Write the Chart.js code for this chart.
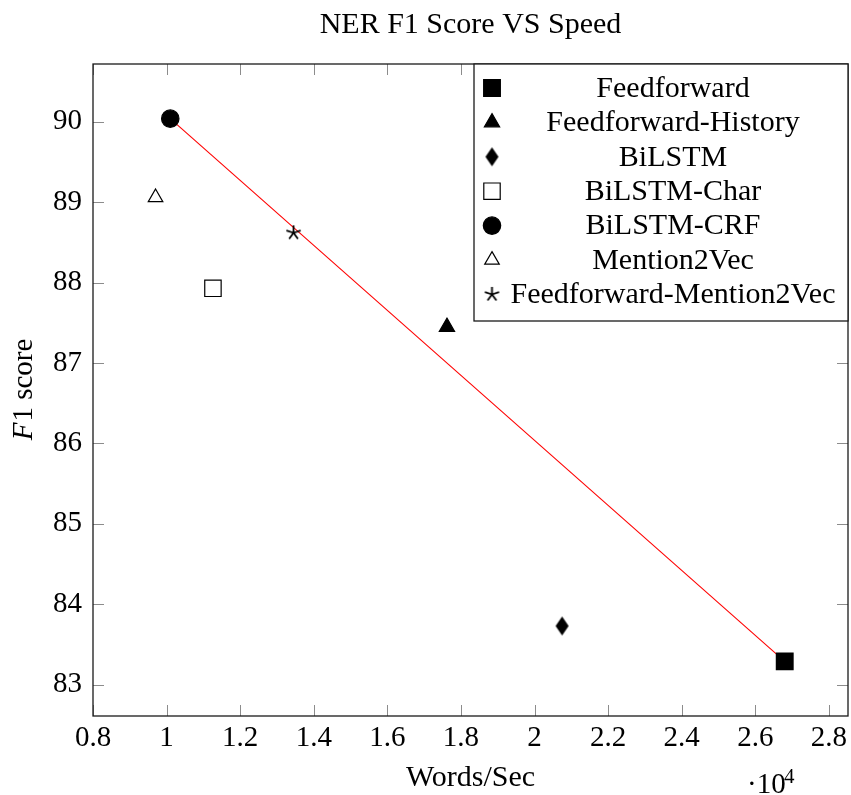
<!DOCTYPE html>
<html>
<head>
<meta charset="utf-8">
<title>NER F1 Score VS Speed</title>
<script src="https://cdn.jsdelivr.net/npm/chart.js@4.4.0/dist/chart.umd.min.js"></script>
<style>
  html, body { margin: 0; padding: 0; background: #fff; overflow: hidden; }
  #wrap { position: relative; width: 851px; height: 795px; }
</style>
</head>
<body>
<div id="wrap"><canvas id="speedChart"></canvas></div>
<script>
// speeds are in units of 10^4 words/sec
const models = ['Feedforward', 'Feedforward-History', 'BiLSTM', 'BiLSTM-Char', 'BiLSTM-CRF', 'Mention2Vec', 'Feedforward-Mention2Vec'];
const wordsPerSec = [2.68, 1.762, 2.075, 1.126, 1.01, 0.97, 1.345];
const f1Scores = [83.29, 87.45, 83.73, 87.93, 90.04, 89.06, 88.62];
// the red line joins these two models
const lineModels = ['BiLSTM-CRF', 'Feedforward'];
const xTicks = [0.8, 1, 1.2, 1.4, 1.6, 1.8, 2, 2.2, 2.4, 2.6, 2.8];
const yTicks = [83, 84, 85, 86, 87, 88, 89, 90];

const FONT = "'Liberation Serif', 'Times New Roman', serif";

function diamondMarker(w, h) {
    const c = document.createElement('canvas');
    c.width = w + 2;
    c.height = h + 2;
    const g = c.getContext('2d');
    g.fillStyle = '#000';
    g.beginPath();
    g.moveTo(c.width / 2, 1);
    g.lineTo(c.width - 1, c.height / 2);
    g.lineTo(c.width / 2, c.height - 1);
    g.lineTo(1, c.height / 2);
    g.closePath();
    g.fill();
    return c;
}

function starMarker(r) {
    const size = Math.ceil(r * 2 + 4);
    const c = document.createElement('canvas');
    c.width = size;
    c.height = size;
    const g = c.getContext('2d');
    g.strokeStyle = '#000';
    g.lineWidth = 1.8;
    g.beginPath();
    for (let i = 0; i < 5; i++) {
        const a = -Math.PI / 2 + i * 2 * Math.PI / 5;
        g.moveTo(size / 2, size / 2);
        g.lineTo(size / 2 + r * Math.cos(a), size / 2 + r * Math.sin(a));
    }
    g.stroke();
    return c;
}

// marker look per model, same order as models
const markers = [
    { pointStyle: 'rect', radius: 11.8, fill: '#000' },
    { pointStyle: 'triangle', radius: 8.8, fill: '#000' },
    { pointStyle: diamondMarker(13, 19), radius: 9, fill: '#000' },
    { pointStyle: 'rect', radius: 11.6, fill: '#fff' },
    { pointStyle: 'circle', radius: 8.7, fill: '#000' },
    { pointStyle: 'triangle', radius: 8.4, fill: '#fff' },
    { pointStyle: starMarker(7.5), radius: 8, fill: '#000' },
];

const fmtTick = (v) => String(Number(Number(v).toFixed(1)));

const datasets = models.map((name, i) => ({
    type: 'scatter',
    label: name,
    data: [{ x: wordsPerSec[i], y: f1Scores[i] }],
    pointStyle: markers[i].pointStyle,
    pointRadius: markers[i].radius,
    pointHoverRadius: markers[i].radius,
    backgroundColor: markers[i].fill,
    borderColor: '#000',
    borderWidth: 1.2,
    order: 0,
}));

datasets.push({
    type: 'line',
    label: 'frontier',
    data: lineModels.map((m) => {
        const i = models.indexOf(m);
        return { x: wordsPerSec[i], y: f1Scores[i] };
    }),
    borderColor: '#ff0000',
    borderWidth: 1.1,
    pointRadius: 0,
    fill: false,
    order: 10,
});

const axisFrame = {
    id: 'axisFrame',
    beforeDatasetsDraw(chart) {
        const { ctx, chartArea: a, scales } = chart;
        ctx.save();
        ctx.strokeStyle = '#8c8c8c';
        ctx.lineWidth = 1;
        ctx.beginPath();
        xTicks.forEach((v) => {
            const px = Math.round(scales.x.getPixelForValue(v)) + 0.5;
            ctx.moveTo(px, a.bottom);
            ctx.lineTo(px, a.bottom - 11);
            ctx.moveTo(px, a.top);
            ctx.lineTo(px, a.top + 11);
        });
        yTicks.forEach((v) => {
            const py = Math.round(scales.y.getPixelForValue(v)) + 0.5;
            ctx.moveTo(a.left, py);
            ctx.lineTo(a.left + 11, py);
            ctx.moveTo(a.right, py);
            ctx.lineTo(a.right - 11, py);
        });
        ctx.stroke();
        ctx.strokeStyle = '#1a1a1a';
        ctx.lineWidth = 1.3;
        ctx.strokeRect(a.left, a.top, a.right - a.left, a.bottom - a.top);
        ctx.restore();
    },
    afterDraw(chart) {
        const { ctx, chartArea: a } = chart;
        const midX = (a.left + a.right) / 2;
        ctx.save();
        ctx.fillStyle = '#000';
        ctx.textBaseline = 'alphabetic';

        // title
        ctx.font = `30px ${FONT}`;
        ctx.textAlign = 'center';
        ctx.fillText('NER F1 Score VS Speed', midX, 33);

        // x label and exponent
        ctx.fillText('Words/Sec', midX, 786);
        ctx.textAlign = 'left';
        ctx.font = `29px ${FONT}`;
        ctx.fillText('\u00b710', 747, 793);
        ctx.font = `21px ${FONT}`;
        ctx.fillText('4', 784, 783);

        // y label, italic F
        ctx.translate(24, (a.top + a.bottom) / 2);
        ctx.rotate(-Math.PI / 2);
        ctx.font = `italic 29px ${FONT}`;
        const wF = ctx.measureText('F').width;
        ctx.font = `29px ${FONT}`;
        const wRest = ctx.measureText('1 score').width;
        const x0 = -(wF + wRest) / 2;
        ctx.textBaseline = 'middle';
        ctx.font = `italic 29px ${FONT}`;
        ctx.fillText('F', x0, 0);
        ctx.font = `29px ${FONT}`;
        ctx.fillText('1 score', x0 + wF + 1, 0);
        ctx.restore();
    },
};

const boxLegend = {
    id: 'boxLegend',
    afterDraw(chart) {
        const { ctx, chartArea: a } = chart;
        const box = { left: 474, top: a.top, right: a.right, bottom: 321 };
        ctx.save();
        ctx.fillStyle = '#fff';
        ctx.fillRect(box.left, box.top, box.right - box.left, box.bottom - box.top);
        ctx.strokeStyle = '#1a1a1a';
        ctx.lineWidth = 1.3;
        ctx.strokeRect(box.left, box.top, box.right - box.left, box.bottom - box.top);

        ctx.font = `30px ${FONT}`;
        ctx.textAlign = 'center';
        ctx.textBaseline = 'middle';
        models.forEach((name, i) => {
            const y = box.top + 24 + i * 34.4;
            const m = markers[i];
            ctx.fillStyle = m.fill;
            ctx.strokeStyle = '#000';
            ctx.lineWidth = 1.2;
            Chart.helpers.drawPoint(ctx, { pointStyle: m.pointStyle, radius: m.radius, borderWidth: 1.2, rotation: 0 }, 492, y);
            ctx.fillStyle = '#000';
            ctx.fillText(name, 673, y + 1);
        });
        ctx.restore();
    },
};

new Chart(document.getElementById('speedChart'), {
    type: 'scatter',
    data: { datasets },
    options: {
        responsive: true,
        maintainAspectRatio: false,
        animation: false,
        layout: { autoPadding: false, padding: { top: 64, right: 3, left: 0, bottom: 0 } },
        plugins: {
            legend: { display: false },
            title: { display: false },
            tooltip: { enabled: false },
        },
        scales: {
            x: {
                type: 'linear',
                min: 0.8,
                max: 2.852,
                afterBuildTicks: (s) => { s.ticks = xTicks.map((v) => ({ value: v })); },
                afterFit: (s) => { s.height = 79; s.paddingLeft = 0; s.paddingRight = 0; },
                grid: { display: false, drawTicks: false },
                border: { display: false },
                ticks: {
                    autoSkip: false,
                    maxRotation: 0,
                    padding: 5,
                    color: '#000',
                    font: { family: FONT, size: 29 },
                    callback: fmtTick,
                },
            },
            y: {
                type: 'linear',
                min: 82.61,
                max: 90.72,
                afterBuildTicks: (s) => { s.ticks = yTicks.map((v) => ({ value: v })); },
                afterFit: (s) => { s.width = 93; s.paddingTop = 0; s.paddingBottom = 0; },
                grid: { display: false, drawTicks: false },
                border: { display: false },
                ticks: {
                    autoSkip: false,
                    padding: 11,
                    color: '#000',
                    font: { family: FONT, size: 29 },
                    callback: fmtTick,
                },
            },
        },
    },
    plugins: [axisFrame, boxLegend],
});
</script>
</body>
</html>
